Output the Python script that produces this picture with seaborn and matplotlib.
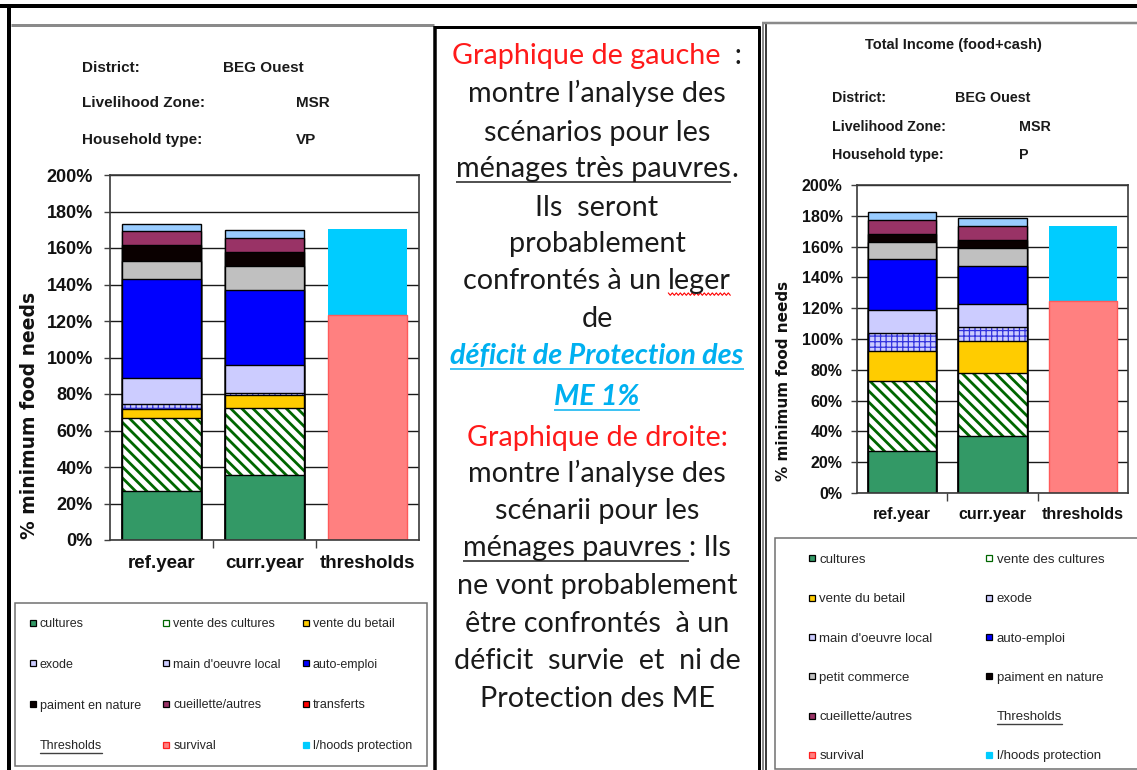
import numpy as np
import pandas as pd
import matplotlib
matplotlib.use("Agg")
import matplotlib.pyplot as plt
import seaborn as sns
from matplotlib.colors import to_rgba
from matplotlib.lines import Line2D
from matplotlib.patches import Rectangle

# ---------------- data ----------------
categories = ["ref.year", "curr.year", "thresholds"]
income_sources = ["cultures", "vente des cultures", "vente du betail", "exode",
                  "main d'oeuvre local", "auto-emploi", "petit commerce",
                  "paiment en nature", "cueillette/autres", "autres revenus"]
threshold_names = ["survival", "l/hoods protection"]

# very poor (VP) households - left chart (% of minimum food needs)
vp_ref_year = [27, 40, 5, 2.5, 14.5, 54, 10, 8.5, 8, 3.5]
vp_curr_year = [35.5, 37, 7, 1, 15.5, 41, 13, 8, 7.5, 4.5]
vp_thresholds = [123.5, 47]

# poor (P) households - right chart
p_ref_year = [27.5, 45, 20, 11.5, 15, 33, 11, 5, 9.5, 5]
p_curr_year = [37, 41, 20.5, 9, 15, 25, 11.5, 5, 9.5, 5]
p_thresholds = [125, 48.5]

y_ticks = [0, 20, 40, 60, 80, 100, 120, 140, 160, 180, 200]

# ---------------- styles ----------------
STYLE = {
    "cultures": dict(face="#339966", edge="black", lw=1.0),
    "vente des cultures": dict(face="white", edge="black", lw=1.0, hatch="\\\\\\", hcolor="#006600", hlw=2.0),
    "vente du betail": dict(face="#FFCC00", edge="black", lw=1.0),
    "exode": dict(face="#CCCCFF", edge="black", lw=1.0, hatch="+++", hcolor="#3333DD", hlw=0.9),
    "main d'oeuvre local": dict(face="#CCCCFF", edge="black", lw=1.0),
    "auto-emploi": dict(face="#0000FF", edge="black", lw=1.0),
    "petit commerce": dict(face="#C0C0C0", edge="black", lw=1.0),
    "paiment en nature": dict(face="#0A0000", edge="black", lw=1.0),
    "cueillette/autres": dict(face="#993366", edge="black", lw=1.0),
    "autres revenus": dict(face="#99CCFF", edge="black", lw=1.0),
    "transferts": dict(face="#FF0000", edge="black", lw=1.0),
    "survival": dict(face="#FF8080", edge="#FF5A5A", lw=1.0),
    "l/hoods protection": dict(face="#00CCFF", edge="#00CCFF", lw=0.0),
}

W, H = 1137, 770
sns.set_style("white")
NARROW = ["Liberation Sans Narrow", "Liberation Sans", "DejaVu Sans"]
TEXTF = ["Lato", "DejaVu Sans"]
plt.rcParams["font.family"] = NARROW
plt.rcParams["hatch.linewidth"] = 2.0

fig = plt.figure(figsize=(W / 100, H / 100), dpi=100)
fig.patch.set_facecolor("white")


def fx(x):
    return x / W


def fy(y):
    return 1 - y / H


def draw_stack(ax, ref, curr, thr, width):
    rows = []
    for cat, vals, names in [(categories[0], ref, income_sources),
                             (categories[1], curr, income_sources),
                             (categories[2], thr, threshold_names)]:
        cum = np.cumsum(vals)
        for n, v, c in zip(names, vals, cum):
            rows.append(dict(category=cat, source=n, value=v, top=c))
    df = pd.DataFrame(rows)
    df = df[df.value > 0]
    for name in reversed(income_sources + threshold_names):
        sub = df[df.source == name]
        if sub.empty:
            continue
        st = STYLE[name]
        n0 = len(ax.patches)
        sns.barplot(data=sub, x="category", y="top", order=categories,
                    color=st["face"], saturation=1, width=width,
                    edgecolor=st["edge"], linewidth=st["lw"],
                    errorbar=None, ax=ax)
        for p in ax.patches[n0:]:
            if st.get("hatch"):
                p.set_hatch(st["hatch"])
                p._hatch_color = to_rgba(st["hcolor"])
                if hasattr(p, "set_hatch_linewidth"):
                    p.set_hatch_linewidth(st["hlw"])


def style_axes(ax, tick_fs, xfs, yfs, ylab_xy, ypad, xpad):
    ax.set_ylim(0, 200)
    ax.set_xlim(-0.5, 2.5)
    ax.set_yticks(y_ticks)
    ax.set_yticklabels([f"{v}%" for v in y_ticks], fontsize=tick_fs,
                       fontweight="bold", color="#111111")
    ax.yaxis.grid(True, color="#1a1a1a", lw=1.0)
    ax.xaxis.grid(False)
    ax.set_axisbelow(True)
    ax.tick_params(axis="y", left=True, length=4.3, width=1, color="#404040", pad=ypad)
    ax.set_xticks([0, 1, 2])
    ax.set_xticklabels(categories, fontsize=xfs, fontweight="bold", color="#111111")
    ax.tick_params(axis="x", which="major", length=0, pad=xpad)
    ax.set_xticks([0.5, 1.5], minor=True)
    ax.tick_params(axis="x", which="minor", bottom=True, length=5.5, width=1, color="#404040")
    for s in ax.spines.values():
        s.set_visible(True)
        s.set_color("#3a3a3a")
        s.set_linewidth(1.2)
    ax.set_xlabel("")
    ax.set_ylabel("% minimum food needs", fontsize=yfs, fontweight="bold",
                  family=["DejaVu Sans"], color="#111111")
    ax.yaxis.set_label_coords(*ylab_xy)


# ---------------- left chart ----------------
axL = fig.add_axes([fx(110), fy(540), (419 - 110) / W, (540 - 175) / H])
draw_stack(axL, vp_ref_year, vp_curr_year, vp_thresholds, 0.77)
style_axes(axL, 13, 13.5, 13.5, (-0.23, 0.34), 8, 11)

# ---------------- right chart ----------------
axR = fig.add_axes([fx(857), fy(493), (1128 - 857) / W, (493 - 185) / H])
draw_stack(axR, p_ref_year, p_curr_year, p_thresholds, 0.76)
style_axes(axR, 11.5, 11.5, 11, (-0.245, 0.365), 6, 10)

# ---------------- header texts ----------------
hdrL = dict(fontsize=11, fontweight="bold", color="#1a1a1a", va="center")
for lab, y in [("District:", 68), ("Livelihood Zone:", 103), ("Household type:", 140)]:
    fig.text(fx(82), fy(y), lab, **hdrL)
for val, x, y in [("BEG Ouest", 223, 68), ("MSR", 296, 103), ("VP", 296, 140)]:
    fig.text(fx(x), fy(y), val, **hdrL)

hdrR = dict(fontsize=10.3, fontweight="bold", color="#1a1a1a", va="center")
fig.text(fx(953), fy(45), "Total Income (food+cash)", fontsize=10.5,
         fontweight="bold", color="#1a1a1a", ha="center", va="center")
for lab, y in [("District:", 98), ("Livelihood Zone:", 127), ("Household type:", 155)]:
    fig.text(fx(832), fy(y), lab, **hdrR)
for val, x, y in [("BEG Ouest", 955, 98), ("MSR", 1019, 127), ("P", 1019, 155)]:
    fig.text(fx(x), fy(y), val, **hdrR)


# ---------------- legends ----------------
def handle(name):
    if name == "Thresholds":
        return Line2D([], [], ls="none")
    st = STYLE[name]
    face = st["face"]
    edge = "black"
    if name == "vente des cultures":
        edge = st["hcolor"]
    if name == "l/hoods protection":
        edge = st["face"]
    if name == "survival":
        edge = "#FF2020"
    return Line2D([], [], ls="none", marker="s", markersize=5,
                  markerfacecolor=face, markeredgecolor=edge, markeredgewidth=0.9)


left_legend_order = ["cultures", "exode", "paiment en nature", "Thresholds",
                     "vente des cultures", "main d'oeuvre local", "cueillette/autres", "survival",
                     "vente du betail", "auto-emploi", "transferts", "l/hoods protection"]
right_legend_order = ["cultures", "vente du betail", "main d'oeuvre local", "petit commerce",
                      "cueillette/autres", "survival",
                      "vente des cultures", "exode", "auto-emploi", "paiment en nature",
                      "Thresholds", "l/hoods protection"]

legs = []
# (order, frame box, legend box, ncol, labelspacing, fontsize)
for order, frame, box, ncol, lsp, lfs in [
        (left_legend_order, (15, 603, 427, 766), (15, 603, 427, 766), 3, 2.3, 9),
        (right_legend_order, (775, 538, 1140, 769), (793, 538, 1120, 769), 2, 2.05, 9.5)]:
    fx0, fy0, fx1, fy1 = frame
    fig.add_artist(Rectangle((fx(fx0), fy(fy1)), (fx1 - fx0) / W, (fy1 - fy0) / H,
                             transform=fig.transFigure, facecolor="white",
                             edgecolor="#707070", lw=1.1, zorder=0.5))
    x0, y0, x1, y1 = box
    lg = fig.legend([handle(n) for n in order], order,
                    loc="upper left", bbox_to_anchor=(fx(x0), fy(y1), (x1 - x0) / W, (y1 - y0) / H),
                    mode="expand", ncol=ncol, borderaxespad=0, frameon=False,
                    borderpad=1.2, labelspacing=lsp, handlelength=0.5, handletextpad=0.3,
                    prop=dict(family=NARROW, size=lfs))
    legs.append(lg)

# ---------------- frames ----------------
def fline(xs, ys, color, lwpx):
    fig.add_artist(Line2D([fx(x) for x in xs], [fy(y) for y in ys], color=color,
                          lw=lwpx * 0.72, solid_capstyle="butt"))

fline([0, W], [5.5, 5.5], "black", 4)
fline([9, 9], [4, H], "black", 4)
fline([11, 434], [25, 25], "#8a8a8a", 3)
fline([435, 435], [26, H], "black", 3.5)
fline([434, 760], [27, 27], "black", 3)
fline([759, 759], [26, H], "black", 3)
fline([763, 763], [22, H], "#8a8a8a", 2)
fline([766, 766], [24, H], "black", 1.5)
fline([762, W], [23, 23], "#8a8a8a", 2.5)

# ---------------- middle text ----------------
fig.canvas.draw()
R = fig.canvas.get_renderer()


def adv(s, fp):
    t1 = fig.text(0, 0, "|" + s + "|", **fp)
    w1 = t1.get_window_extent(R).width
    t1.remove()
    t2 = fig.text(0, 0, "||", **fp)
    w2 = t2.get_window_extent(R).width
    t2.remove()
    return w1 - w2


base = dict(family=TEXTF, fontsize=20)
fs = 20 * 258.0 / adv("montre l\u2019analyse des", base)

BLACK = dict(family=TEXTF, fontsize=fs, color="#1a1a1a")
RED = dict(family=TEXTF, fontsize=fs, color="#FF1A1A")
BLUE = dict(family=TEXTF, fontsize=fs, color="#00B0F0", fontweight="bold", fontstyle="italic")

lines = [
    (55, [("Graphique de gauche", RED, None, False), ("  :", BLACK, None, False)]),
    (93, [("montre l\u2019analyse des", BLACK, None, False)]),
    (132, [("scénarios pour les", BLACK, None, False)]),
    (168, [("ménages très pauvres", BLACK, "#1a1a1a", False), (".", BLACK, None, False)]),
    (207, [("Ils  seront", BLACK, None, False)]),
    (243, [("probablement", BLACK, None, False)]),
    (280, [("confrontés à un ", BLACK, None, False), ("leger", BLACK, "#FF0000", True)]),
    (318, [("de", BLACK, None, False)]),
    (355, [("déficit de Protection des", BLUE, "#00B0F0", False)]),
    (396, [("ME 1%", BLUE, "#00B0F0", False)]),
    (437, [("Graphique de droite:", RED, None, False)]),
    (473, [("montre l\u2019analyse des", BLACK, None, False)]),
    (510, [("scénarii pour les", BLACK, None, False)]),
    (547, [("ménages pauvres ", BLACK, "#1a1a1a", False), (": Ils", BLACK, None, False)]),
    (585, [("ne vont probablement", BLACK, None, False)]),
    (623, [("être confrontés  à un", BLACK, None, False)]),
    (660, [("déficit  survie  et  ni de", BLACK, None, False)]),
    (698, [("Protection des ME", BLACK, None, False)]),
]

xc = 597
fs_px = fs * 100 / 72
for yc, segs in lines:
    widths = [adv(s, fp) for s, fp, _, _ in segs]
    total = sum(widths)
    x = xc - total / 2
    yb = yc + 0.33 * fs_px
    for (s, fp, ul, wavy), w in zip(segs, widths):
        fig.text(fx(x), fy(yb), s, ha="left", va="baseline", **fp)
        if ul is not None:
            yu = yb + 0.16 * fs_px
            if wavy:
                xs = np.arange(x, x + w + 0.1, 2.0)
                ys = yu + np.where(np.arange(len(xs)) % 2 == 0, -1.2, 1.2)
                fig.add_artist(Line2D([fx(v) for v in xs], [fy(v) for v in ys],
                                      color=ul, lw=0.8))
            else:
                fline([x, x + w], [yu, yu], ul, 1.5)
        x += w

# underline "Thresholds" in legends
for lg in legs:
    for t in lg.get_texts():
        if t.get_text() == "Thresholds":
            bb = t.get_window_extent(R)
            fig.add_artist(Line2D([bb.x0 / W, bb.x1 / W], [(bb.y0 - 1) / H, (bb.y0 - 1) / H],
                                  color="#404040", lw=1.0))

fig.savefig("out.png", dpi=100, facecolor="white")
